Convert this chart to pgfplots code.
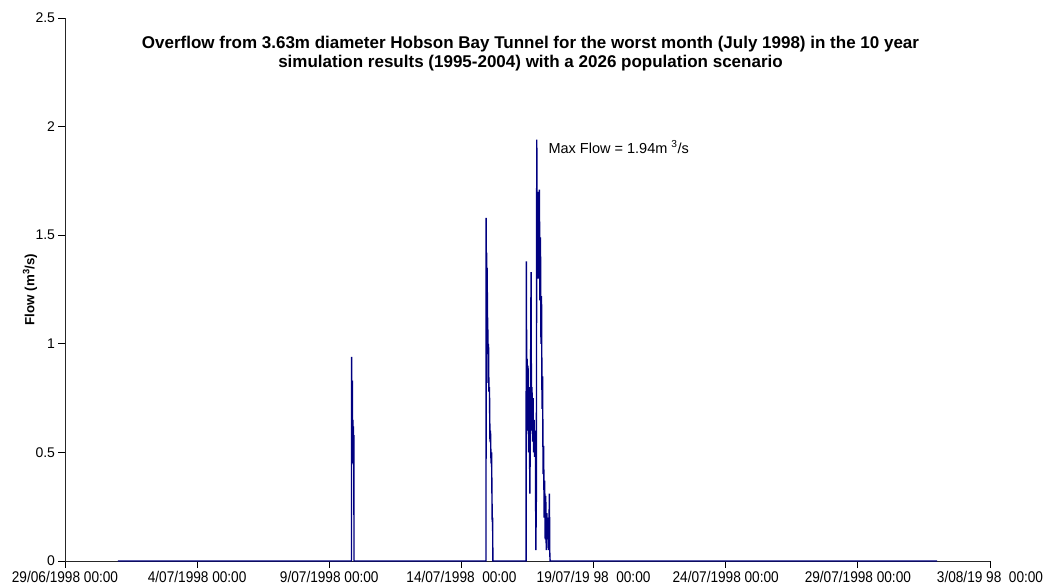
\documentclass[border=0pt]{standalone}
\usepackage{fontspec}
\setmainfont{Liberation Sans}
\newfontfamily\narrowfont[FakeStretch=0.88]{Liberation Sans}
\usepackage{pgfplots}
\pgfplotsset{compat=1.18}
\definecolor{navyline}{RGB}{0,0,128}
\begin{document}
\begin{tikzpicture}
\path[use as bounding box] (-65pt,-26pt) rectangle (979pt,561pt);
\begin{axis}[
  scale only axis, width=925pt, height=543pt,
  xmin=0, xmax=35, ymin=0, ymax=2.5,
  axis x line=bottom, axis y line=left,
  axis line style={-, black!85, line width=0.8pt},
  xtick={0,5,...,35},
  xticklabels={29/06/1998 00:00, 4/07/1998 00:00, 9/07/1998 00:00, 14/07/1998~~00:00, 19/07/19 98~~00:00, 24/07/1998 00:00, 29/07/1998 00:00, 3/08/19 98~~00:00},
  ytick={0,0.5,...,2.5},
  tick align=outside, major tick length=6.5pt,
  tick style={black, line width=0.8pt},
  /pgf/number format/assume math mode=true,
  x tick label style={font=\fontsize{15.5}{17}\narrowfont},
  y tick label style={font=\fontsize{14}{16}\selectfont},
  clip=false,
]
\addplot[navyline, line width=1.4pt] coordinates {
(2,0)
(10.84,0) (10.845,0.94) (10.85,0.46) (10.86,0.72) (10.865,0.55) (10.875,0.83) (10.88,0.5) (10.89,0.65) (10.90,0.45) (10.91,0.62) (10.92,0.5) (10.93,0.58) (10.935,0)
(15.93,0) (15.935,1.58) (15.945,1.3) (15.955,1.42) (15.965,1.1) (15.975,1.35) (15.985,1.05) (15.995,1.12) (16.01,0.82) (16.025,1.0) (16.04,0.78) (16.06,0.8) (16.08,0.55) (16.10,0.6) (16.12,0.45) (16.14,0.5) (16.165,0.18) (16.18,0.2) (16.19,0)
(17.445,0) (17.455,1.38) (17.47,0.85) (17.49,0.93) (17.50,0.6) (17.52,0.9) (17.54,0.5) (17.56,0.8) (17.59,0.31) (17.61,0.7) (17.635,1.33) (17.65,0.6) (17.67,0.8) (17.69,0.55) (17.71,0.75) (17.73,0.5) (17.75,0.65) (17.77,0.48) (17.80,0.6) (17.815,0.05) (17.835,0.3) (17.85,1.94) (17.87,1.5) (17.89,1.7) (17.91,1.3) (17.93,1.6) (17.95,1.71) (17.97,1.2) (17.99,1.49) (18.01,1.0) (18.03,1.22) (18.05,0.7) (18.07,0.85) (18.09,0.4) (18.11,0.53) (18.13,0.2) (18.15,0.37) (18.17,0.1) (18.19,0.3) (18.21,0.05) (18.23,0.22) (18.25,0.1) (18.27,0.2) (18.29,0.05) (18.31,0.15) (18.33,0.31) (18.34,0.05) (18.355,0)
(33,0)
};
\node[anchor=west, inner sep=0pt, font=\fontsize{14.5}{16}\selectfont] at (axis cs:18.29,1.906) {Max Flow = 1.94m \textsuperscript{3}/s};
\end{axis}
\node[rotate=90, font=\fontsize{13.3}{15}\bfseries] at (-35pt,271.5pt) {Flow (m\textsuperscript{3}/s)};
\node[align=center, font=\fontsize{17}{19.5}\bfseries] at (465.5pt,507.5pt) {Overflow from 3.63m diameter Hobson Bay Tunnel for the worst month (July 1998) in the 10 year\\simulation results (1995-2004) with a 2026 population scenario};
\end{tikzpicture}
\end{document}
